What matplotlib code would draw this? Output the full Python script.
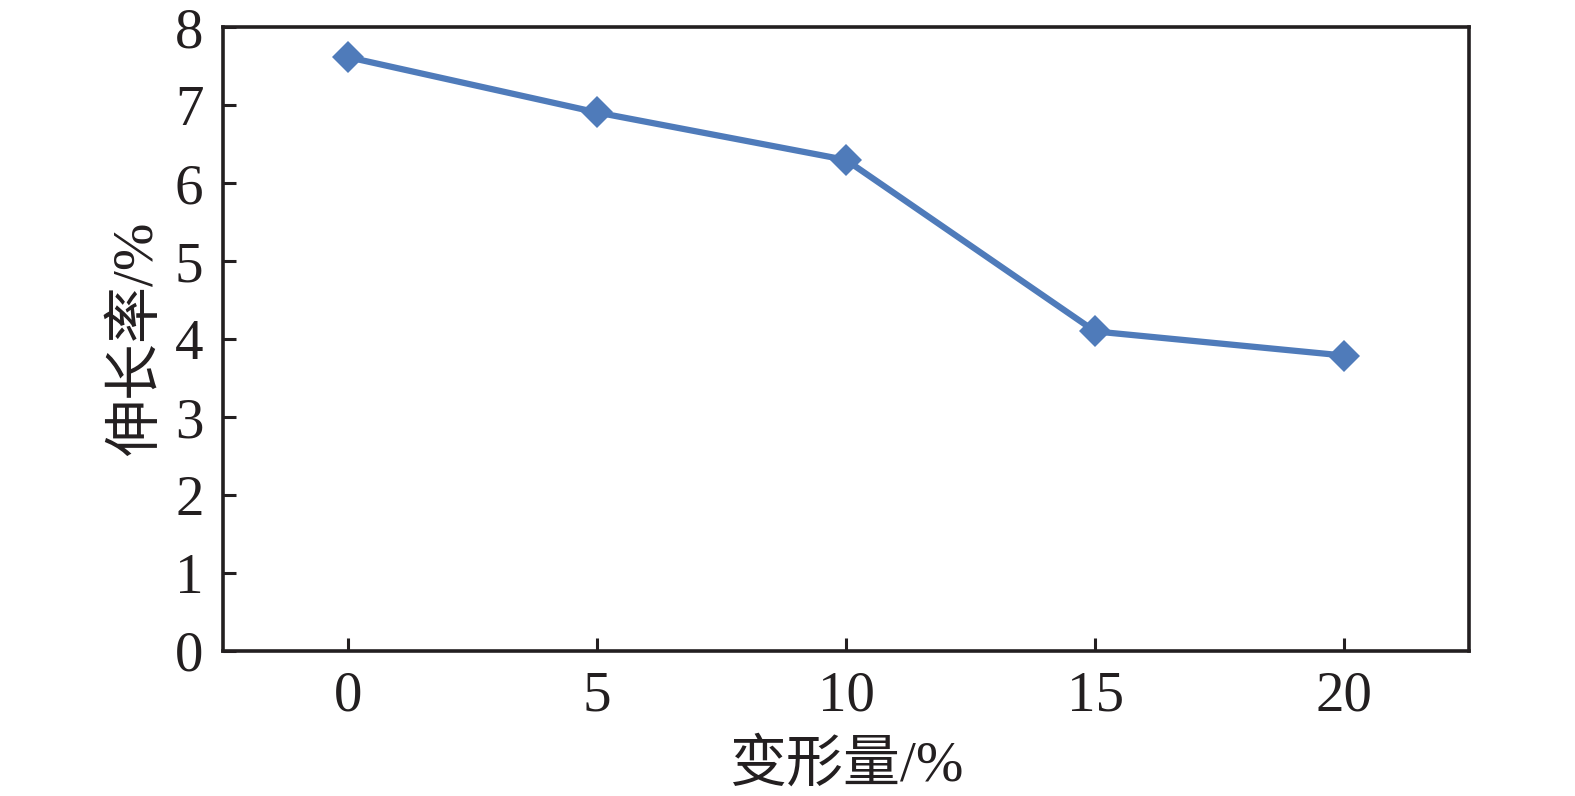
import matplotlib
matplotlib.use('Agg')
import matplotlib.pyplot as plt

# 变形量 (%) vs 伸长率 (%)
deform_labels = ['0', '5', '10', '15', '20']
elongation = [7.62, 6.91, 6.30, 4.10, 3.79]
y_ticks = [0, 1, 2, 3, 4, 5, 6, 7, 8]

plt.rcParams['font.family'] = ['Liberation Serif', 'Noto Sans CJK SC']
plt.rcParams['font.size'] = 41

fig = plt.figure(figsize=(15.75, 7.96), dpi=100)
ax = fig.add_axes([0.1416, 0.1822, 0.9327 - 0.1416, 0.9655 - 0.1822])

x = list(range(len(deform_labels)))
ax.plot(x, elongation, color='#4F7BBA', linewidth=4.5,
        marker='D', markersize=16, markeredgewidth=0)

ax.set_xlim(-0.5, len(deform_labels) - 0.5)
ax.set_ylim(0, 8)
ax.set_xticks(x)
ax.set_xticklabels(deform_labels)
ax.set_yticks(y_ticks)

for s in ax.spines.values():
    s.set_linewidth(2.6)
    s.set_color('#231f20')

ax.tick_params(axis='both', direction='in', length=9.5, width=2.2,
               color='#231f20', labelcolor='#231f20')
ax.tick_params(axis='y', pad=14)
ax.tick_params(axis='x', pad=14)

ax.set_xlabel('变形量/%', labelpad=12, color='#231f20')
ax.set_ylabel('伸长率/%', labelpad=8, color='#231f20')

fig.savefig('out.png', dpi=100)
